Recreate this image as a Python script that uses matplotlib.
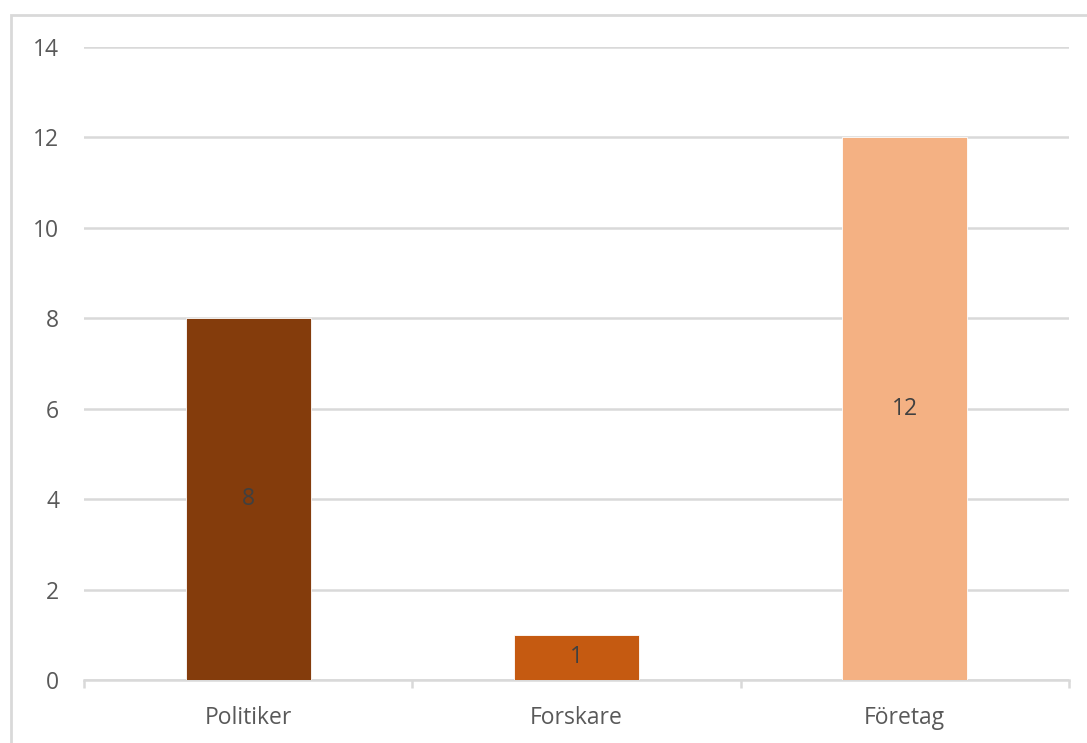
import matplotlib.pyplot as plt
from matplotlib.patches import Rectangle

categories = ["Politiker", "Forskare", "Företag"]
values = [8, 1, 12]
colors = ["#843C0C", "#C55A11", "#F4B183"]
yticks = [0, 2, 4, 6, 8, 10, 12, 14]

plt.rcParams['font.family'] = ['Open Sans', 'DejaVu Sans']

fig = plt.figure(figsize=(10.87, 7.43), dpi=100)
ax = fig.add_axes([0.0773, 0.0848, 0.906, 0.852])

# outer chart frame, only its left and top edges fall inside the image
fig.patches.append(Rectangle((11 / 1087, -0.1), 1.2, 1 - 15 / 743 + 0.1,
                             transform=fig.transFigure, fill=False,
                             edgecolor="#d9d9d9", linewidth=2))

x = range(len(categories))
bars = ax.bar(x, values, width=0.38, color=colors, edgecolor="white", linewidth=0.6, zorder=3)

for b, v in zip(bars, values):
    ax.text(b.get_x() + b.get_width() / 2, v / 2, str(v), ha="center", va="center",
            fontsize=16.5, color="#404040", zorder=4)

ax.set_xlim(-0.5, len(categories) - 0.5)
ax.set_ylim(0, 14)
ax.set_yticks(yticks)
ax.yaxis.grid(True, color="#d9d9d9", linewidth=1.8, zorder=0)
ax.tick_params(axis="y", length=0, labelsize=16.5, labelcolor="#595959", pad=18)

ax.set_xticks(list(x))
ax.set_xticklabels(categories)
ax.tick_params(axis="x", length=0, labelsize=16.5, labelcolor="#595959", pad=19)
# category boundary ticks
ax.set_xticks([i - 0.5 for i in range(len(categories) + 1)], minor=True)
ax.tick_params(axis="x", which="minor", length=6, width=1.8, color="#d9d9d9")

for s in ["top", "right", "left"]:
    ax.spines[s].set_visible(False)
ax.spines["bottom"].set_color("#d9d9d9")
ax.spines["bottom"].set_linewidth(1.8)

fig.savefig("out.png", dpi=100)
